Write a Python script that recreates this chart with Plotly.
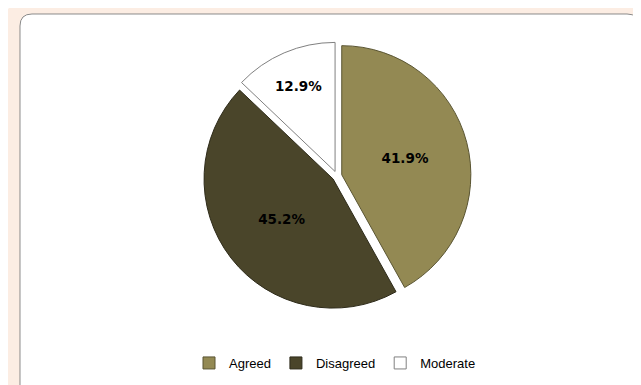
import plotly.graph_objects as go

categories = ["Agreed", "Disagreed", "Moderate"]
values = [41.9, 45.2, 12.9]
colors = ["#938953", "#4a452a", "#ffffff"]
edge_colors = ["#5a5532", "#2e2b1a", "#808080"]

W, H = 641, 385
OFF = 8  # page body margin offset

def px_x(x):
    return (x - OFF) / W

def px_y(y):
    return 1 - (y - OFF) / H

def rounded_rect(x0, y0, x1, y1, r):
    X = lambda v: f"{px_x(v):.5f}"
    Y = lambda v: f"{px_y(v):.5f}"
    return (f"M {X(x0 + r)},{Y(y0)} L {X(x1 - r)},{Y(y0)} "
            f"Q {X(x1)},{Y(y0)} {X(x1)},{Y(y0 + r)} "
            f"L {X(x1)},{Y(y1 - r)} Q {X(x1)},{Y(y1)} {X(x1 - r)},{Y(y1)} "
            f"L {X(x0 + r)},{Y(y1)} Q {X(x0)},{Y(y1)} {X(x0)},{Y(y1 - r)} "
            f"L {X(x0)},{Y(y0 + r)} Q {X(x0)},{Y(y0)} {X(x0 + r)},{Y(y0)} Z")

cx, cy, half = 337, 176, 134

fig = go.Figure()
fig.add_trace(go.Pie(
    labels=categories,
    values=values,
    sort=False,
    direction="clockwise",
    rotation=0,
    pull=[0.038, 0.038, 0.038],
    marker=dict(colors=colors, line=dict(color=edge_colors, width=1)),
    texttemplate="%{value:.1f}%",
    textposition="inside",
    insidetextorientation="horizontal",
    textfont=dict(family="DejaVu Sans", size=13.5, color="#000000", weight="bold"),
    domain=dict(x=[px_x(cx - half), px_x(cx + half)],
                y=[px_y(cy + half), px_y(cy - half)]),
    hoverinfo="label+percent",
    showlegend=True,
))

fig.update_layout(
    width=W, height=H,
    margin=dict(l=0, r=0, t=0, b=0),
    paper_bgcolor="#ffffff",
    plot_bgcolor="#ffffff",
    font=dict(family="Liberation Sans", size=13, color="#000000"),
    legend=dict(
        orientation="h",
        x=px_x(335), xanchor="center",
        y=px_y(363), yanchor="middle",
        font=dict(family="Liberation Sans", size=13, color="#000000"),
        itemwidth=30,
        bgcolor="rgba(0,0,0,0)",
    ),
    shapes=[
        dict(type="path", xref="paper", yref="paper", layer="below",
             path=rounded_rect(5, 5, 670, 410, 14),
             fillcolor="#fcede3", line=dict(width=0)),
        dict(type="path", xref="paper", yref="paper", layer="below",
             path=rounded_rect(20, 14, 639, 405, 12),
             fillcolor="#ffffff", line=dict(color="#8a8a8a", width=1)),
    ],
)

fig.write_html("out.html")
